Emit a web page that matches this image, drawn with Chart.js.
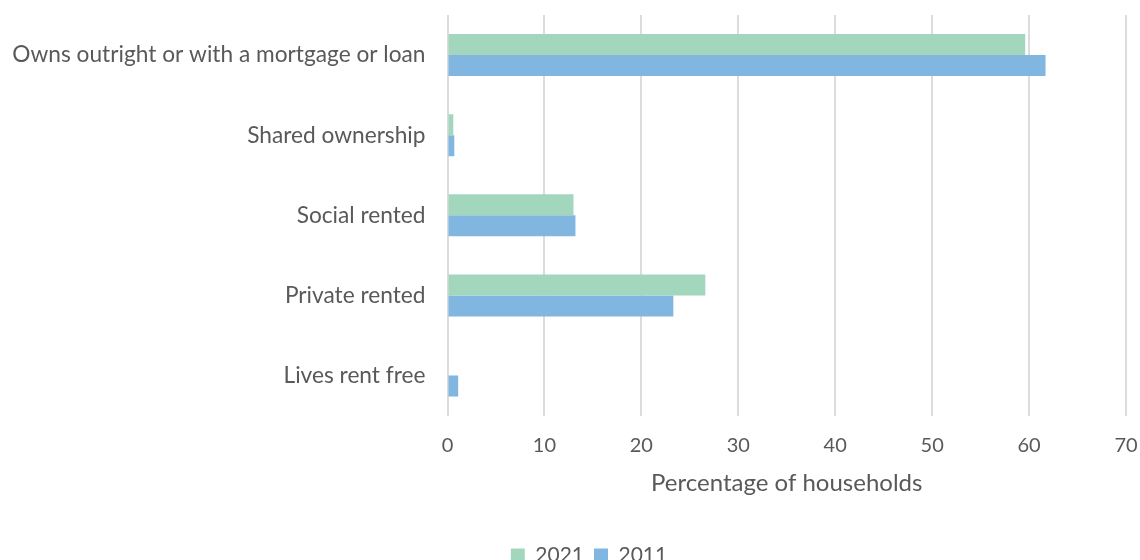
<!DOCTYPE html>
<html>
<head>
<meta charset="utf-8">
<script src="https://cdn.jsdelivr.net/npm/chart.js@4/dist/chart.umd.min.js"></script>
<style>
  html, body { margin: 0; padding: 0; background: #fff; overflow: hidden; }
  #wrap { width: 1140px; height: 576px; }
</style>
</head>
<body>
<div id="wrap"><canvas id="tenure-chart" width="1140" height="576"></canvas></div>
<script>
// Household tenure, share of households (%)
const TENURE_LABELS = [
  'Owns outright or with a mortgage or loan',
  'Shared ownership',
  'Social rented',
  'Private rented',
  'Lives rent free'
];
const VALUES_2021 = [59.6, 0.6, 13.0, 26.6, 0];
const VALUES_2011 = [61.7, 0.7, 13.2, 23.3, 1.1];

const TEXT_COLOR = '#595959';
const FONT = 'Lato, "Open Sans", sans-serif';

// nudge the legend a little to the right of the page centre
const legendShift = {
  id: 'legendShift',
  afterLayout(chart) {
    if (!chart.legend) return;
    chart.legend.left += 26;
    chart.legend.right += 26;
  }
};

const ctx = document.getElementById('tenure-chart');

new Chart(ctx.getContext('2d'), {
  type: 'bar',
  data: {
    labels: TENURE_LABELS,
    datasets: [
      {
        label: '2021',
        data: VALUES_2021,
        backgroundColor: '#a2d7bd',
        barPercentage: 1,
        categoryPercentage: 0.525
      },
      {
        label: '2011',
        data: VALUES_2011,
        backgroundColor: '#80b6e0',
        barPercentage: 1,
        categoryPercentage: 0.525
      }
    ]
  },
  options: {
    indexAxis: 'y',
    responsive: false,
    animation: false,
    layout: { padding: { top: 15, right: 14, left: 0, bottom: 0 } },
    plugins: {
      tooltip: { enabled: false },
      legend: {
        position: 'bottom',
        labels: {
          color: TEXT_COLOR,
          font: { family: FONT, size: 21 },
          boxWidth: 14,
          boxHeight: 14,
          padding: 10
        }
      }
    },
    scales: {
      x: {
        min: 0,
        max: 70,
        // fixed axis height, and no extra room for the end tick labels
        afterFit: (scale) => {
          scale.height = 119.4;
          scale.paddingLeft = 0;
          scale.paddingRight = 0;
        },
        ticks: {
          stepSize: 10,
          color: TEXT_COLOR,
          font: { family: FONT, size: 20 },
          padding: 18
        },
        grid: { color: '#dcdcdc', lineWidth: 2, drawTicks: false },
        border: { display: false },
        title: {
          display: true,
          text: 'Percentage of households',
          color: TEXT_COLOR,
          font: { family: FONT, size: 24 },
          padding: { top: 11.6, bottom: 37 }
        }
      },
      y: {
        afterFit: (scale) => {
          scale.width = 447.5;
          scale.paddingTop = 0;
          scale.paddingBottom = 0;
        },
        ticks: {
          color: TEXT_COLOR,
          font: { family: FONT, size: 22.7 },
          padding: 22
        },
        grid: { display: false, drawTicks: false },
        border: { display: false }
      }
    }
  },
  plugins: [legendShift]
});
</script>
</body>
</html>
